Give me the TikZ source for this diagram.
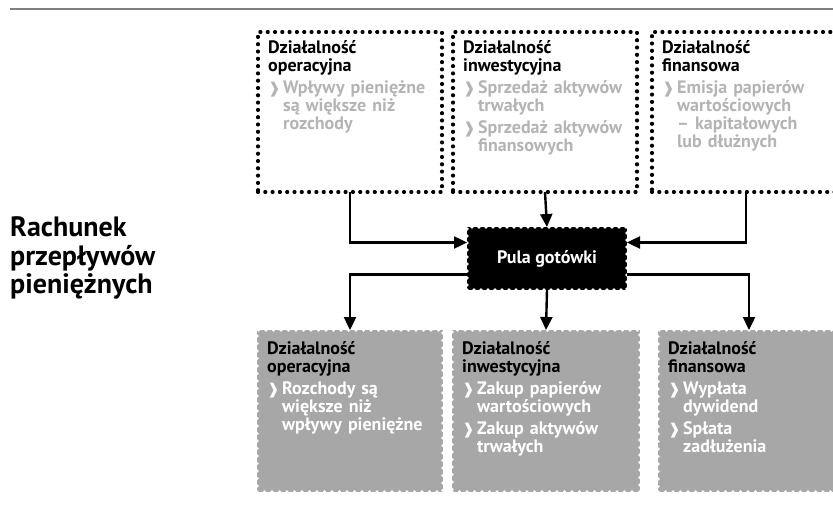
\documentclass[tikz,border=0pt]{standalone}
\usepackage{fontspec}
\setmainfont{PT Sans}
\newfontfamily\dingfont{DejaVu Sans}
\usetikzlibrary{arrows.meta}

\definecolor{boxgray}{RGB}{167,167,167}
\definecolor{itemgray}{RGB}{180,180,180}
\definecolor{rulegray}{RGB}{128,128,128}

% bullet and one item of a list, with hanging indent
\newcommand{\pkt}{{\dingfont\fontsize{15}{15}\selectfont ❱}}
\newcommand{\pozycja}[1]{\par\vspace{4pt}\noindent\hangindent=15pt\hangafter=1\makebox[15pt][l]{\pkt}#1\par}

\begin{document}
\hyphenpenalty=10000
\begin{tikzpicture}[x=1pt,y=-1pt,
   kropki/.style={draw=black,line width=4.2pt,dash pattern=on 0pt off 7.3pt,line cap=round,
                  minimum width=184pt,minimum height=160pt,anchor=north west,inner sep=0pt,outer sep=0pt},
   perforacja/.style={fill=boxgray,draw=white,line width=3.6pt,dash pattern=on 0pt off 7.5pt,line cap=round,
                  minimum width=186pt,minimum height=162pt,anchor=north west,inner sep=0pt,outer sep=0pt},
   opis/.style={anchor=north west,inner sep=0pt,text width=180pt,align=left,
                font=\bfseries\fontsize{18}{18}\selectfont},
   strz/.style={line width=2.4pt,-{Triangle[length=13pt,width=12pt]}},
  ]
   \useasboundingbox (0,0) rectangle (833,511);
   \draw[rulegray,line width=2pt] (10,9) -- (833,9);

   % tytul
   \node[anchor=west,align=left,inner sep=0pt,font=\bfseries\fontsize{28}{28.5}\selectfont] (tytul) at (10,258)
      {Rachunek\\przepływów\\pieniężnych};

   % wplywy - gorny rzad
   \node[kropki] (opg) at (258,32) {};
   \node[kropki] (ing) at (453,32) {};
   \node[kropki,minimum width=188pt] (fig) at (652,32) {};
   \node[opis] (opgtxt) at ([xshift=10pt,yshift=-8pt]opg.north west)
      {Działalność\\operacyjna\color{itemgray}
       \pozycja{Wpływy pieniężne\newline są większe niż\newline rozchody}};
   \node[opis] (ingtxt) at ([xshift=10pt,yshift=-8pt]ing.north west)
      {Działalność\\inwestycyjna\color{itemgray}
       \pozycja{Sprzedaż aktywów\newline trwałych}
       \pozycja{Sprzedaż aktywów\newline finansowych}};
   \node[opis] (figtxt) at ([xshift=10pt,yshift=-8pt]fig.north west)
      {Działalność\\finansowa\color{itemgray}
       \pozycja{Emisja papierów\newline wartościowych\newline -- kapitałowych\newline lub dłużnych}};

   % pula
   \node[fill=black,draw=white,line width=3.6pt,dash pattern=on 0pt off 7pt,line cap=round,
         minimum width=160pt,minimum height=63pt,inner sep=0pt,outer sep=0pt,
         text=white,font=\bfseries\fontsize{18}{18}\selectfont] (pula) at (547,258.5) {Pula gotówki};

   % wydatki - dolny rzad
   \node[perforacja] (opd) at (257,330) {};
   \node[perforacja,minimum width=188pt] (ind) at (452,330) {};
   \node[perforacja,minimum width=182pt] (fid) at (658,330) {};
   \node[opis] (opdtxt) at ([xshift=10pt,yshift=-11pt]opd.north west)
      {Działalność\\operacyjna\color{white}
       \pozycja{Rozchody są\newline większe niż\newline wpływy pieniężne}};
   \node[opis] (indtxt) at ([xshift=10pt,yshift=-11pt]ind.north west)
      {Działalność\\inwestycyjna\color{white}
       \pozycja{Zakup papierów\newline wartościowych}
       \pozycja{Zakup aktywów\newline trwałych}};
   \node[opis] (fidtxt) at ([xshift=10pt,yshift=-11pt]fid.north west)
      {Działalność\\finansowa\color{white}
       \pozycja{Wypłata\newline dywidend}
       \pozycja{Spłata\newline zadłużenia}};

   % strzalki
   \draw[strz] (opg.south) |- ([yshift=16pt]pula.west);
   \draw[strz] (ing.south) -- (pula.north);
   \draw[strz] (fig.south) |- ([yshift=16pt]pula.east);
   \draw[strz] ([yshift=-16pt]pula.west) -| (opd.north);
   \draw[strz] (pula.south) -- (ind.north);
   \draw[strz] ([yshift=-16pt]pula.east) -| (fid.north);
\end{tikzpicture}
\end{document}
